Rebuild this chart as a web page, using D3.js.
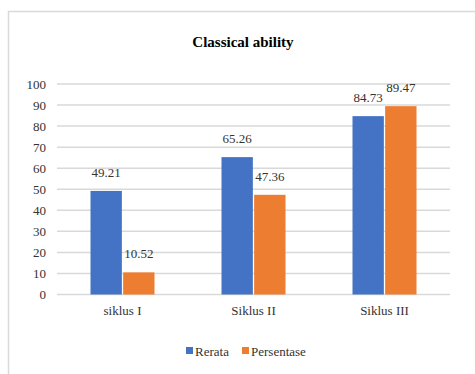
<!DOCTYPE html>
<html><head><meta charset="utf-8">
<script src="https://cdn.jsdelivr.net/npm/d3@7/dist/d3.min.js"></script>
<style>body{margin:0;background:#fff}svg{display:block}</style>
</head><body>
<script>
const categories = ["siklus I", "Siklus II", "Siklus III"];
const seriesNames = ["Rerata", "Persentase"];
const rerata = [49.21, 65.26, 84.73];
const persentase = [10.52, 47.36, 89.47];
const yTicks = [0,10,20,30,40,50,60,70,80,90,100];
const colors = ["#4472c4", "#ed7d31"];

const W = 475, H = 374;
const svg = d3.select("body").append("svg").attr("width", W).attr("height", H);
const font = "Liberation Serif, Times New Roman, serif";

svg.append("rect").attr("x", 8.5).attr("y", 11.5).attr("width", 480).attr("height", 400)
  .attr("fill", "none").attr("stroke", "#d9d9d9").attr("stroke-width", 1.5);

svg.append("text").attr("x", 243).attr("y", 47).attr("text-anchor", "middle")
  .style("font-family", font).attr("font-weight", "bold").attr("font-size", 15).attr("fill", "#000")
  .text("Classical ability");

const x0 = d3.scaleBand().domain(categories).range([57, 450]);
const x1 = d3.scaleBand().domain(seriesNames).range([0, 64]).paddingInner(0.04);
const y = d3.scaleLinear().domain([0, 100]).range([294.5, 84]);

const grid = svg.append("g");
grid.selectAll("line").data(yTicks).join("line")
  .attr("x1", 57).attr("x2", 450)
  .attr("y1", d => y(d)).attr("y2", d => y(d))
  .attr("stroke", "#d9d9d9").attr("stroke-width", 1.5);

const yAxis = d3.axisLeft(y).tickValues(yTicks).tickSize(0).tickPadding(0);
const ya = svg.append("g").attr("transform", "translate(46,0)").call(yAxis);
ya.select(".domain").remove();
ya.selectAll("text").style("font-family", font).attr("font-size", 13).attr("fill", "#333");

const data = categories.map((c, i) => ({c, vals: [rerata[i], persentase[i]]}));
const groups = svg.append("g").selectAll("g").data(data).join("g")
  .attr("transform", d => `translate(${x0(d.c) + x0.bandwidth()/2 - 32},0)`);
groups.selectAll("rect").data(d => d.vals.map((v, j) => ({v, s: seriesNames[j], j})))
  .join("rect")
  .attr("x", d => x1(d.s)).attr("width", x1.bandwidth())
  .attr("y", d => y(d.v)).attr("height", d => y(0) - y(d.v))
  .attr("fill", d => colors[d.j]);
groups.selectAll("text").data(d => d.vals.map((v, j) => ({v, s: seriesNames[j], j})))
  .join("text")
  .attr("x", d => x1(d.s) + x1.bandwidth()/2).attr("y", d => y(d.v) - 14)
  .attr("text-anchor", "middle").style("font-family", font).attr("font-size", 13).attr("fill", "#333")
  .text(d => d.v.toFixed(2));

const xAxis = d3.axisBottom(x0).tickSize(0).tickPadding(0);
const xa = svg.append("g").attr("transform", "translate(0,306)").call(xAxis);
xa.select(".domain").remove();
xa.selectAll("text").style("font-family", font).attr("font-size", 13).attr("fill", "#333").attr("dy", "0.71em");

const legend = svg.append("g").attr("transform", "translate(186,351)");
const items = [{n: seriesNames[0], x: 0}, {n: seriesNames[1], x: 56}];
items.forEach((it, i) => {
  legend.append("rect").attr("x", it.x).attr("y", -4).attr("width", 7).attr("height", 7).attr("fill", colors[i]);
  legend.append("text").attr("x", it.x + 9).attr("y", 0).attr("dy", "0.35em")
    .style("font-family", font).attr("font-size", 13).attr("fill", "#333").text(it.n);
});
</script>
</body></html>
